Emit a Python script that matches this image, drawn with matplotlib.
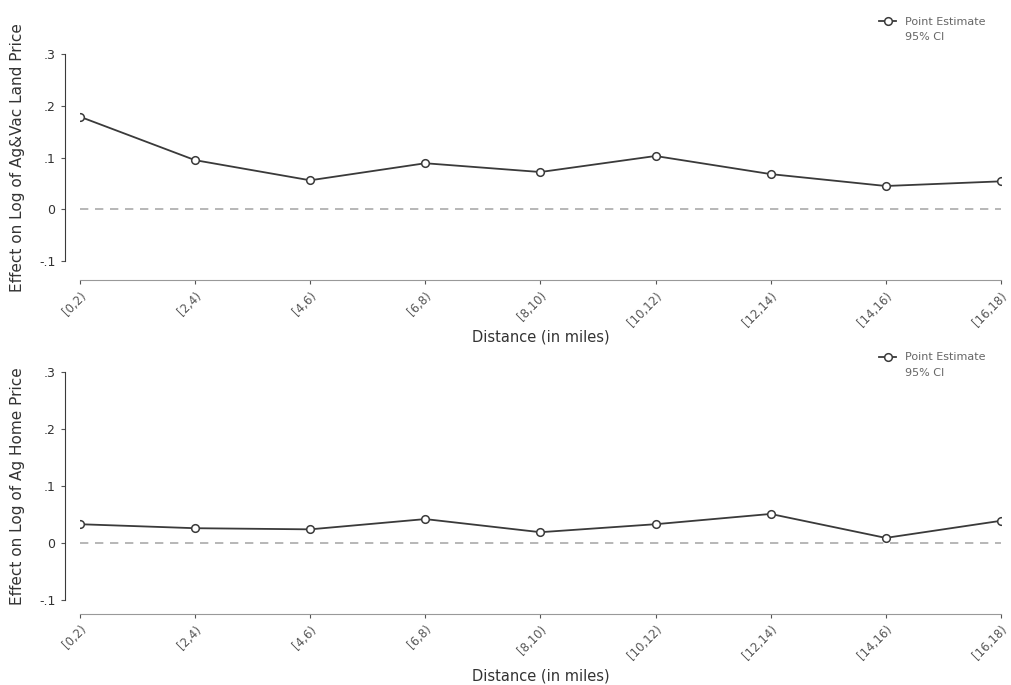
import matplotlib
matplotlib.use("Agg")
from matplotlib import pyplot as plt
from matplotlib.patches import Patch

bins = ["[0,2)", "[2,4)", "[4,6)", "[6,8)", "[8,10)", "[10,12)", "[12,14)", "[14,16)", "[16,18)"]
land_est = [0.179, 0.095, 0.056, 0.089, 0.072, 0.103, 0.068, 0.045, 0.054]
home_est = [0.033, 0.026, 0.024, 0.042, 0.019, 0.033, 0.051, 0.009, 0.039]
yticks = [-0.1, 0, 0.1, 0.2, 0.3]
ytick_labels = ["-.1", "0", ".1", ".2", ".3"]

panels = [
    (land_est, "Effect on Log of Ag&Vac Land Price", [0.079, 0.619, 0.911, 0.302], 14, 0.99, 0),
    (home_est, "Effect on Log of Ag Home Price", [0.079, 0.124, 0.911, 0.333], 10, 0.50, 4),
]

fig = plt.figure(figsize=(10.11, 6.85), dpi=100)
x = list(range(len(bins)))
ink = "#3a3a3a"

for est, ylab, rect, out_b, leg_y, xpad in panels:
    ax = fig.add_axes(rect)
    ax.axhline(0, color="#aaaaaa", lw=1.2, ls=(0, (5, 4)), zorder=1)
    ax.plot(x, est, color=ink, lw=1.3, marker="o", markersize=5.5,
            markerfacecolor="white", markeredgecolor=ink, markeredgewidth=1.1,
            label="Point Estimate", zorder=3)
    ax.set_xlim(0, len(bins) - 1)
    ax.set_ylim(-0.1, 0.3)
    ax.set_yticks(yticks)
    ax.set_yticklabels(ytick_labels)
    ax.set_xticks(x)
    ax.set_xticklabels(bins)
    ax.spines["top"].set_visible(False)
    ax.spines["right"].set_visible(False)
    ax.spines["left"].set_position(("outward", 11))
    ax.spines["bottom"].set_position(("outward", out_b))
    ax.spines["left"].set_color(ink)
    ax.spines["bottom"].set_color("#999999")
    ax.tick_params(axis="both", colors="#555555", length=3, width=0.8)
    ax.tick_params(axis="x", labelsize=8.5)
    ax.tick_params(axis="y", labelsize=9, labelcolor="#333333")
    plt.setp(ax.get_xticklabels(), rotation=45, ha="right", rotation_mode="anchor")
    ax.set_ylabel(ylab, fontsize=11, color="#333333", labelpad=10)
    ax.set_xlabel("Distance (in miles)", fontsize=10.5, color="#333333", labelpad=xpad)
    handles, labels = ax.get_legend_handles_labels()
    handles.append(Patch(facecolor="white", edgecolor="none"))
    labels.append("95% CI")
    ax.legend(handles, labels, loc="upper right", bbox_to_anchor=(0.985, leg_y),
              bbox_transform=fig.transFigure, frameon=False, fontsize=8,
              labelcolor="#666666", handlelength=1.6)

fig.savefig("out.png", dpi=100)
